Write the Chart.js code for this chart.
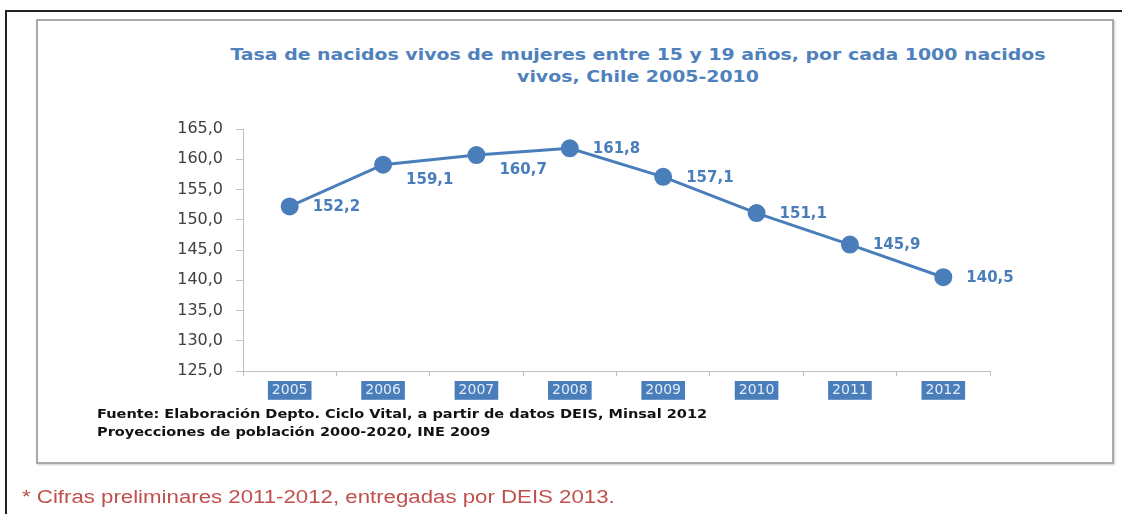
<!DOCTYPE html>
<html>
<head>
<meta charset="utf-8">
<script src="https://cdn.jsdelivr.net/npm/chart.js@4/dist/chart.umd.min.js"></script>
<style>
  body { margin: 0; background: #fff; }
  #page { position: relative; width: 1122px; height: 514px; overflow: hidden; }
  .outer { position: absolute; left: 5px; top: 10px; width: 1140px; height: 600px; border: 2px solid #222; }
  .inner { position: absolute; left: 36px; top: 19px; width: 1074px; height: 441px; border: 2px solid #a9a9a9; box-shadow: 1px 1px 2px #ccc; }
  .title { position: absolute; left: 0; top: 44px; width: 1276px; text-align: center; transform: scaleX(1.26); transform-origin: 638px 0;
           font: bold 15px "DejaVu Sans", sans-serif; line-height: 22px; color: #4f81bd; }
  .src { position: absolute; left: 97px; font: bold 12px "DejaVu Sans", sans-serif; color: #111; transform: scaleX(1.21); transform-origin: 0 0; white-space: nowrap; }
  .note { position: absolute; left: 22px; top: 487px; font: 18px "Liberation Sans", Arial, sans-serif; color: #c0504d; transform: scaleX(1.235); transform-origin: 0 0; white-space: nowrap; }
  #wrap { position: absolute; left: 0; top: 0; width: 1122px; height: 514px; }
</style>
</head>
<body>
<div id="page">
  <div class="outer"></div>
  <div class="inner"></div>
  <div class="title">Tasa de nacidos vivos de mujeres entre 15 y 19 años, por cada 1000 nacidos<br>vivos, Chile 2005-2010</div>
  <div id="wrap"><canvas id="tasaChart"></canvas></div>
  <div class="src" style="top:407px">Fuente: Elaboración Depto. Ciclo Vital, a partir de datos DEIS, Minsal 2012</div>
  <div class="src" style="top:425px">Proyecciones de población 2000-2020, INE 2009</div>
  <div class="note">* Cifras preliminares 2011-2012, entregadas por DEIS 2013.</div>
</div>
<script>
const years = ["2005", "2006", "2007", "2008", "2009", "2010", "2011", "2012"];
const tasa = [152.2, 159.1, 160.7, 161.8, 157.1, 151.1, 145.9, 140.5];
const yTicks = [125, 130, 135, 140, 145, 150, 155, 160, 165];

const blue = "#4a7ebb";
const fmt = (v) => v.toFixed(1).replace(".", ",");

// value labels to the right of each point
const valueLabels = {
  id: "valueLabels",
  afterDatasetsDraw(chart, args, opts) {
    const ctx = chart.ctx;
    const meta = chart.getDatasetMeta(0);
    ctx.save();
    ctx.font = "bold 15px 'DejaVu Sans', sans-serif";
    ctx.fillStyle = blue;
    ctx.textAlign = "left";
    ctx.textBaseline = "middle";
    meta.data.forEach((pt, i) => {
      const dy = opts.below.includes(i) ? 15 : 1;
      ctx.fillText(fmt(tasa[i]), pt.x + 23, pt.y + dy);
    });
    ctx.restore();
  },
};

const configTasa = {
  type: "line",
  data: {
    labels: years,
    datasets: [
      {
        label: "Tasa",
        data: tasa,
        borderColor: blue,
        backgroundColor: blue,
        borderWidth: 3,
        pointRadius: 7.5,
        pointHoverRadius: 7.5,
        tension: 0,
      },
    ],
  },
  options: {
    responsive: true,
    maintainAspectRatio: false,
    animation: false,
    layout: {
      padding: { left: 150, right: 132, top: 129, bottom: 113 },
    },
    scales: {
      y: {
        min: 125,
        max: 165,
        afterBuildTicks: (scale) => {
          scale.ticks = yTicks.map((v) => ({ value: v }));
        },
        afterFit: (scale) => {
          scale.width = 93;
        },
        border: { color: "#bfbfbf", width: 1 },
        grid: {
          drawOnChartArea: false,
          tickLength: 7,
          color: "#bfbfbf",
        },
        ticks: {
          padding: 13,
          color: "#404040",
          font: { family: "DejaVu Sans", size: 16 },
          callback: (v) => fmt(v),
        },
      },
      x: {
        offset: true,
        afterFit: (scale) => {
          scale.height = 30;
        },
        border: { color: "#bfbfbf", width: 1 },
        grid: {
          offset: true,
          drawOnChartArea: false,
          tickLength: 5,
          color: "#bfbfbf",
        },
        ticks: {
          padding: 6,
          color: "#e3ecf7",
          font: { family: "DejaVu Sans", size: 14 },
          showLabelBackdrop: true,
          backdropColor: blue,
          backdropPadding: { x: 4, y: 1 },
          maxRotation: 0,
        },
      },
    },
    plugins: {
      legend: { display: false },
      tooltip: { enabled: false },
      title: { display: false },
      valueLabels: { below: [1, 2] },
    },
  },
  plugins: [valueLabels],
};

const tasaChart = new Chart(document.getElementById("tasaChart"), configTasa);
</script>
</body>
</html>
